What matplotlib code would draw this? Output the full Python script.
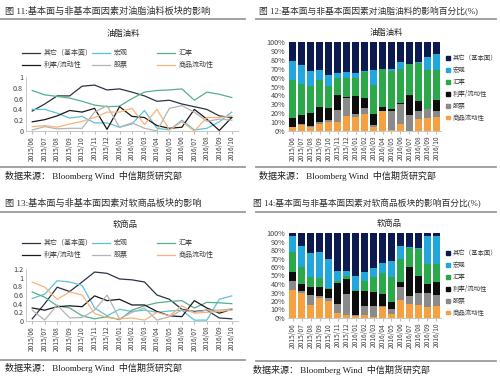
import matplotlib
matplotlib.use('Agg')
import matplotlib.pyplot as plt
from matplotlib.lines import Line2D
from matplotlib.patches import Patch
import numpy as np

plt.rcParams['font.family'] = ['Noto Sans CJK SC', 'DejaVu Sans']

months = ['2015/06', '2015/07', '2015/08', '2015/09', '2015/10', '2015/11', '2015/12',
          '2016/01', '2016/02', '2016/03', '2016/04', '2016/05', '2016/06', '2016/07',
          '2016/08', '2016/09', '2016/10']
series_names = ['其它（基本面）', '宏观', '汇率', '利率/流动性', '股票', '商品流动性']

# 油脂油料 - factor impact
oil_other = [0.37, 0.50, 0.65, 0.65, 0.83, 0.85, 0.76, 0.78, 0.72, 0.65, 0.55, 0.57, 0.50, 0.45, 0.40, 0.28, 0.25]
oil_macro = [0.40, 0.40, 0.33, 0.24, 0.27, 0.15, 0.15, 0.07, 0.13, 0.38, 0.05, 0.02, 0.20, 0.02, 0.05, 0.17, 0.35]
oil_fx = [0.75, 0.67, 0.64, 0.61, 0.55, 0.48, 0.45, 0.46, 0.60, 0.72, 0.75, 0.76, 0.78, 0.57, 0.72, 0.68, 0.62]
oil_rate = [0.17, 0.21, 0.28, 0.38, 0.35, 0.42, 0.03, 0.45, 0.27, 0.25, 0.10, 0.05, 0.07, 0.40, 0.22, 0.01, 0.25]
oil_stock = [0.02, 0.08, 0.04, 0.05, 0.05, 0.35, 0.47, 0.07, 0.15, 0.05, 0.00, 0.42, 0.47, 0.35, 0.18, 0.22, 0.20]
oil_comm = [0.08, 0.10, 0.07, 0.13, 0.18, 0.25, 0.35, 0.35, 0.42, 0.12, 0.40, 0.02, 0.17, 0.00, 0.25, 0.25, 0.28]

# 软商品 - factor impact
soft_other = [0.05, 0.40, 0.78, 0.68, 0.90, 1.13, 1.10, 0.97, 0.95, 0.90, 0.60, 0.50, 0.27, 0.22, 0.25, 0.07, 0.05]
soft_macro = [0.52, 0.62, 0.93, 0.90, 0.82, 0.30, 0.12, 0.27, 0.22, 0.25, 0.20, 0.23, 0.25, 0.02, 0.02, 0.50, 0.58]
soft_fx = [0.67, 0.55, 0.35, 0.30, 0.12, 0.05, 0.10, 0.03, 0.25, 0.35, 0.42, 0.45, 0.47, 0.30, 0.43, 0.42, 0.40]
soft_rate = [0.30, 0.25, 0.33, 0.35, 0.33, 0.58, 0.47, 0.50, 0.37, 0.37, 0.22, 0.12, 0.10, 0.47, 0.30, 0.18, 0.27]
soft_stock = [0.25, 0.02, 0.37, 0.07, 0.08, 0.25, 0.60, 0.05, 0.20, 0.30, 0.02, 0.10, 0.25, 0.20, 0.25, 0.25, 0.28]
soft_comm = [0.90, 0.78, 0.50, 0.67, 0.60, 0.17, 0.08, 0.05, 0.07, 0.02, 0.20, 0.12, 0.35, 0.18, 0.20, 0.22, 0.25]

# 油脂油料 - percentage shares (%)
oil_pct_other = [21, 26, 33, 32, 37, 35, 34, 35, 33, 31, 30, 30, 23, 25, 22, 17, 13]
oil_pct_macro = [22, 21, 16, 11, 12, 6, 7, 6, 1, 17, 0, 3, 7, 0, 2, 14, 19]
oil_pct_fx = [42, 35, 31, 30, 25, 19, 21, 20, 29, 33, 43, 42, 38, 34, 42, 44, 33]
oil_pct_rate = [10, 10, 14, 17, 14, 16, 1, 20, 11, 12, 5, 2, 2, 23, 11, 0, 12]
oil_pct_stock = [0, 1, 2, 2, 2, 14, 20, 3, 7, 2, 0, 22, 22, 18, 9, 10, 7]
oil_pct_comm = [5, 7, 4, 8, 10, 10, 17, 16, 19, 5, 22, 1, 8, 0, 14, 15, 16]

# 软商品 - percentage shares (%)
soft_pct_other = [3, 15, 24, 22, 31, 45, 45, 51, 46, 41, 35, 33, 15, 17, 18, 4, 3]
soft_pct_macro = [19, 25, 28, 31, 34, 12, 5, 16, 10, 11, 12, 19, 15, 1, 1, 32, 33]
soft_pct_fx = [24, 20, 11, 10, 1, 2, 4, 1, 12, 17, 25, 29, 28, 22, 31, 24, 22]
soft_pct_rate = [10, 8, 10, 11, 11, 24, 18, 28, 18, 17, 14, 8, 6, 34, 20, 11, 15]
soft_pct_stock = [11, 2, 12, 2, 3, 11, 25, 2, 11, 13, 1, 6, 15, 10, 15, 16, 13]
soft_pct_comm = [33, 30, 15, 24, 20, 6, 3, 2, 3, 1, 13, 5, 21, 16, 15, 13, 14]

line_colors = ['#2b3346', '#5cc3d6', '#55b08a', '#1a1a1a', '#b4b4b4', '#f5b47c']
bar_colors = ['#0c1a4f', '#22a7dc', '#2ba84a', '#0d0d0d', '#8a8a8a', '#f5a142']

W, H = 500, 377
fig = plt.figure(figsize=(5.0, 3.77), dpi=100)
FRAME_FONT = ['Liberation Serif', 'Noto Sans CJK SC']


def fx_(x):
    return x / W


def fy_(y):
    return 1 - y / H


def panel_frame(x0, x1, title, y_title, y_top_line, y_bot_line, y_src, x_text, tsize):
    fig.text(fx_(x_text), fy_(y_title), title, fontsize=tsize, color='#303030',
             va='center', ha='left', family=FRAME_FONT)
    for yy in (y_top_line, y_bot_line):
        fig.add_artist(Line2D([fx_(x0), fx_(x1)], [fy_(yy), fy_(yy)], color='#9a9a9a',
                              lw=1.3, transform=fig.transFigure))
    fig.text(fx_(x_text), fy_(y_src), '数据来源： Bloomberg Wind  中信期货研究部', fontsize=6.5,
             color='#202020', va='center', ha='left', family=FRAME_FONT)


def style_axes(ax, x):
    ax.set_xticks(x)
    ax.set_xticklabels(months, rotation=90, fontsize=4.8, color='#404040')
    ax.tick_params(axis='y', labelsize=5.2, labelcolor='#404040', length=0, pad=2)
    ax.tick_params(axis='x', length=2, color='#bfbfbf', pad=1.5)
    for s in ('top', 'right'):
        ax.spines[s].set_visible(False)
    ax.spines['bottom'].set_color('#bfbfbf')
    ax.spines['bottom'].set_linewidth(0.6)


def line_panel(rect, series, ymax, chart_title, title_xy, legend_y):
    ax = fig.add_axes(rect)
    x = np.arange(len(months))
    handles = []
    for vals, c, name in zip(series, line_colors, series_names):
        h, = ax.plot(x, vals, color=c, lw=0.9, label=name)
        handles.append(h)
    ax.set_xlim(-0.5, len(months) - 0.5)
    ax.set_ylim(0, ymax)
    ticks = np.arange(0, ymax + 0.01, 0.2)
    ax.set_yticks(ticks)
    ax.set_yticklabels([f'{round(t, 1):g}' for t in ticks])
    style_axes(ax, x)
    ax.spines['left'].set_color('#bfbfbf')
    ax.spines['left'].set_linewidth(0.6)
    fig.text(fx_(title_xy[0]), fy_(title_xy[1]), chart_title, fontsize=6, color='#202020',
             ha='center', va='center')
    # three legend columns, two rows each
    col_x = [22, 92, 157]
    for i, cx in enumerate(col_x):
        leg = fig.legend([handles[i], handles[i + 3]], [series_names[i], series_names[i + 3]],
                         loc='upper left', bbox_to_anchor=(fx_(cx), fy_(legend_y)),
                         frameon=False, fontsize=5, handlelength=2.6, handletextpad=0.5,
                         labelspacing=0.6, borderaxespad=0, borderpad=0)
        for t in leg.get_texts():
            t.set_color('#404040')
    return ax


def bar_panel(rect, shares, chart_title, title_xy, legend_xy):
    ax = fig.add_axes(rect)
    x = np.arange(len(months))
    # stack bottom to top: 商品流动性, 股票, 利率/流动性, 汇率, 宏观, 其它
    order = [5, 4, 3, 2, 1, 0]
    bottom = np.zeros(len(months))
    for i in order:
        vals = np.array(shares[i], dtype=float)
        ax.bar(x, vals, bottom=bottom, width=0.75, color=bar_colors[i], linewidth=0)
        bottom += vals
    ax.set_xlim(-0.5, len(months) - 0.5)
    ax.set_ylim(0, 100)
    ax.set_yticks(np.arange(0, 101, 10))
    ax.set_yticklabels([f'{v}%' for v in range(0, 101, 10)])
    style_axes(ax, x)
    ax.spines['left'].set_visible(False)
    fig.text(fx_(title_xy[0]), fy_(title_xy[1]), chart_title, fontsize=6, color='#202020',
             ha='center', va='center')
    handles = [Patch(color=c) for c in bar_colors]
    leg = fig.legend(handles, series_names, loc='upper left',
                     bbox_to_anchor=(fx_(legend_xy[0]), fy_(legend_xy[1])), frameon=False,
                     fontsize=4.6, handlelength=0.55, handleheight=0.55, handletextpad=0.45,
                     labelspacing=0.62, borderaxespad=0, borderpad=0)
    for t in leg.get_texts():
        t.set_color('#404040')
    return ax


# frames
panel_frame(0, 245, '图 11:基本面与非基本面因素对油脂油料板块的影响', 11, 19, 167, 176, 5, 6.6)
panel_frame(256, 496, '图 12:基本面与非基本面因素对油脂油料的影响百分比(%)', 11, 19, 167, 176, 259, 6.3)
panel_frame(0, 245, '图 13:基本面与非基本面因素对软商品板块的影响', 203, 212, 360, 368, 5, 6.6)
panel_frame(256, 496, '图 14:基本面与非基本面因素对软商品板块的影响百分比(%)', 203, 212, 361, 370, 253, 6.3)

line_panel([fx_(26), fy_(131), fx_(212), 54 / H],
           [oil_other, oil_macro, oil_fx, oil_rate, oil_stock, oil_comm],
           1.0, '油脂油料', (123, 33), 49)
line_panel([fx_(26), fy_(321), fx_(212), 52 / H],
           [soft_other, soft_macro, soft_fx, soft_rate, soft_stock, soft_comm],
           1.2, '软商品', (125, 224), 239)
bar_panel([fx_(288), fy_(131), fx_(153), 89 / H],
          [oil_pct_other, oil_pct_macro, oil_pct_fx, oil_pct_rate, oil_pct_stock, oil_pct_comm],
          '油脂油料', (386, 32), (446, 54))
bar_panel([fx_(288), fy_(318), fx_(153), 85 / H],
          [soft_pct_other, soft_pct_macro, soft_pct_fx, soft_pct_rate, soft_pct_stock, soft_pct_comm],
          '软商品', (389, 223), (446, 249))

fig.savefig('out.png', dpi=100, facecolor='white')
